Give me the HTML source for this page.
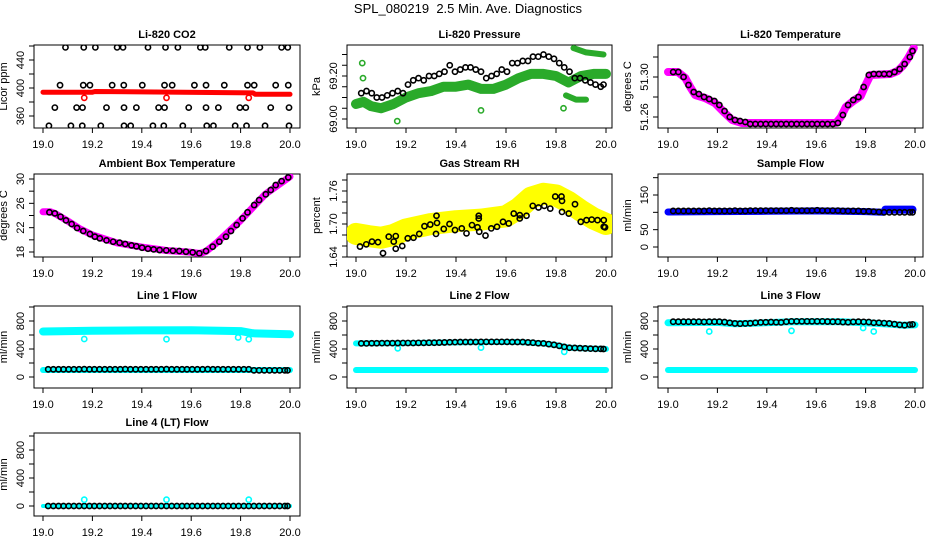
<!DOCTYPE html>
<html><head><meta charset="utf-8">
<style>
html,body{margin:0;padding:0;background:#fff;}
svg{display:block;font-family:"Liberation Sans",Arial,sans-serif;}
</style></head>
<body>
<svg id="chart" width="936" height="540" viewBox="0 0 936 540">
<text x="468" y="13" text-anchor="middle" font-size="13" style="white-space:pre">SPL_080219  2.5 Min. Ave. Diagnostics</text>
</svg>
<script>
// ---------- data ----------
const xTickLabels = ["19.0","19.2","19.4","19.6","19.8","20.0"];
const xTickValues = [19.0,19.2,19.4,19.6,19.8,20.0];
const T48 = [19.021,19.042,19.063,19.083,19.104,19.125,19.146,19.167,19.188,19.208,19.229,19.250,19.271,19.292,19.313,19.333,19.354,19.375,19.396,19.417,19.438,19.458,19.479,19.500,19.521,19.542,19.563,19.583,19.604,19.625,19.646,19.667,19.688,19.708,19.729,19.750,19.771,19.792,19.813,19.833,19.854,19.875,19.896,19.917,19.938,19.958,19.979,19.990];

// CO2
const co2BlackT = [19.091,19.165,19.212,19.300,19.324,19.425,19.496,19.546,19.637,19.657,19.754,19.828,19.878,19.966,19.991,
 19.069,19.163,19.190,19.280,19.327,19.402,19.492,19.523,19.613,19.660,19.734,19.828,19.855,19.942,19.993,
 19.048,19.136,19.160,19.257,19.328,19.378,19.468,19.492,19.590,19.660,19.710,19.797,19.821,19.922,19.996,
 19.024,19.113,19.159,19.234,19.328,19.355,19.445,19.489,19.566,19.663,19.690,19.778,19.824,19.899,19.996];
const co2BlackV = [458,458,458,458,458,458,458,458,458,458,458,458,458,458,458,
 404,404,404,404,404,404,404,404,404,404,404,404,404,404,404,
 372,372,372,372,372,372,372,372,372,372,372,372,372,372,372,
 346,346,346,346,346,346,346,346,346,346,346,346,346,346,346];
const co2RedT = [19.0,19.2,19.21,19.85,19.86,20.0];
const co2RedV = [394,394,395,393,391,391];
const co2RedOutT = [19.167,19.5,19.833];
const co2RedOutV = [386,386,386];

// Pressure
const presBlackV = [69.12,69.13,69.12,69.10,69.10,69.11,69.12,69.13,69.12,69.16,69.18,69.19,69.18,69.20,69.20,69.21,69.22,69.25,69.22,69.23,69.24,69.24,69.23,69.22,69.19,69.20,69.21,69.23,69.22,69.26,69.26,69.27,69.27,69.29,69.29,69.30,69.29,69.28,69.26,69.24,69.22,69.19,69.19,69.18,69.17,69.16,69.15,69.16];
const presGreenT = [19.0,19.03,19.06,19.1,19.15,19.2,19.25,19.3,19.35,19.4,19.45,19.5,19.55,19.6,19.65,19.7,19.75,19.8,19.85,19.9,19.95,20.0];
const presGreenV = [69.07,69.08,69.06,69.05,69.07,69.10,69.12,69.13,69.15,69.15,69.16,69.14,69.14,69.16,69.19,69.21,69.21,69.20,69.17,69.20,69.21,69.21];
const presGreenUpT = [19.87,19.92,19.99];
const presGreenUpV = [69.33,69.31,69.30];
const presGreenLoT = [19.84,19.88,19.92];
const presGreenLoV = [69.11,69.09,69.09];
const presGreenOutT = [19.025,19.028,19.165,19.5,19.83];
const presGreenOutV = [69.26,69.19,68.99,69.04,69.05];

// Li-820 temperature
const tempBlackV = [51.305,51.305,51.300,51.292,51.285,51.283,51.280,51.278,51.276,51.272,51.266,51.260,51.257,51.256,51.255,
 51.253,51.253,51.253,51.253,51.253,51.253,51.253,51.253,51.253,51.253,51.253,51.253,51.253,51.253,51.253,51.253,51.253,
 51.254,51.262,51.272,51.277,51.280,51.290,51.302,51.303,51.303,51.303,51.303,51.305,51.308,51.313,51.320,51.326];
const tempMagT = [19.0,19.04,19.07,19.09,19.11,19.15,19.19,19.23,19.26,19.3,19.68,19.7,19.72,19.75,19.78,19.8,19.82,19.9,19.93,19.95,19.97,19.995];
const tempMagV = [51.305,51.305,51.299,51.290,51.282,51.279,51.274,51.264,51.257,51.254,51.254,51.260,51.270,51.276,51.281,51.292,51.302,51.303,51.306,51.311,51.318,51.329];

// Ambient box temperature
const ambT = [19.026,19.048,19.071,19.093,19.116,19.138,19.163,19.190,19.210,19.230,19.257,19.284,19.310,19.333,19.358,19.378,19.401,19.425,19.448,19.472,19.499,19.526,19.552,19.579,19.606,19.633,19.660,19.687,19.714,19.741,19.761,19.784,19.808,19.828,19.855,19.875,19.902,19.922,19.942,19.966,19.993];
const ambV = [24.52,24.35,23.80,23.20,22.60,21.94,21.45,20.95,20.52,20.24,19.91,19.69,19.53,19.31,19.09,18.93,18.71,18.54,18.43,18.32,18.27,18.21,18.16,18.05,17.94,17.78,18.16,18.87,19.69,20.52,21.45,22.44,23.53,24.52,25.72,26.55,27.48,28.19,29.00,29.65,30.26];
const ambMagT = [19.0,19.03,19.05,19.1,19.15,19.2,19.3,19.4,19.5,19.6,19.635,19.66,19.7,19.8,19.9,20.0];
const ambMagV = [24.6,24.6,24.3,23.1,21.8,20.8,19.5,18.8,18.25,17.95,17.75,18.1,19.4,23.2,27.5,30.4];

// Gas stream RH
const rhBlackT = [19.016,19.041,19.064,19.088,19.108,19.131,19.151,19.159,19.159,19.185,19.207,19.230,19.253,19.274,19.297,19.320,19.324,19.322,19.351,19.374,19.396,19.423,19.442,19.464,19.486,19.491,19.491,19.493,19.518,19.541,19.564,19.588,19.611,19.631,19.655,19.655,19.682,19.707,19.730,19.753,19.777,19.797,19.822,19.824,19.824,19.851,19.876,19.899,19.922,19.943,19.966,19.991,19.991,19.996];
const rhBlackV = [1.659,1.663,1.668,1.667,1.647,1.677,1.668,1.678,1.655,1.660,1.674,1.675,1.682,1.696,1.699,1.682,1.702,1.715,1.691,1.700,1.689,1.692,1.683,1.698,1.694,1.715,1.710,1.686,1.679,1.692,1.695,1.704,1.701,1.719,1.716,1.710,1.715,1.733,1.730,1.733,1.728,1.750,1.750,1.742,1.722,1.719,1.736,1.704,1.707,1.708,1.707,1.707,1.695,1.694];
const rhYellowT = [19.0,19.05,19.1,19.15,19.2,19.3,19.4,19.5,19.6,19.65,19.7,19.75,19.8,19.85,19.9,19.95,20.0];
const rhYellowV = [1.682,1.678,1.675,1.680,1.690,1.700,1.705,1.708,1.714,1.728,1.748,1.755,1.752,1.740,1.724,1.710,1.700];

// Sample flow
const sampBlackV = [104,104,104,104,104,104,104,105,104,104,104,104,105,104,104,105,105,105,105,105,105,105,105,106,105,105,105,105,106,105,105,105,105,104,104,104,104,103,103,102,101,100,100,100,100,100,100,100];
const sampBlueT = [19.0,19.2,19.4,19.6,19.8,19.87];
const sampBlueV = [101,102,103,104,102,100];
const sampBlue2T = [19.88,19.99];
const sampBlue2V = [108,108];

// Line flows
const line1BlackV = [110,110,110,110,110,110,110,112,110,110,110,110,110,110,110,112,110,110,110,110,110,110,110,112,110,110,110,110,110,110,110,112,110,110,110,110,110,110,110,110,95,95,95,95,95,95,95,95];
const line1CyanUpT = [19.0,19.2,19.4,19.6,19.8,19.85,20.0];
const line1CyanUpV = [650,660,665,668,655,625,612];
const cyanLowT = [19.0,20.0];
const cyanLowV = [100,100];
const line1CyanOutT = [19.167,19.5,19.79,19.833];
const line1CyanOutV = [543,540,565,540];

const line2BlackV = [480,480,482,482,484,484,484,485,486,486,486,488,488,490,490,492,494,496,498,500,500,500,500,502,502,502,502,502,502,500,500,500,494,490,482,480,470,460,445,430,418,415,412,408,405,403,402,400];
const line2CyanT = [19.0,19.2,19.4,19.5,19.65,19.7,19.75,19.8,19.85,19.9,20.0];
const line2CyanV = [480,485,495,500,500,490,478,455,420,410,400];
const line2CyanOutT = [19.167,19.5,19.833];
const line2CyanOutV = [410,420,360];

const line3BlackV = [790,790,790,790,790,790,788,790,790,790,785,775,765,762,765,768,775,780,782,785,782,780,790,795,795,795,795,795,795,795,792,790,790,785,782,788,790,788,785,775,775,770,765,755,745,740,748,752];
const line3CyanT = [19.0,19.2,19.27,19.33,19.5,19.7,19.8,19.9,19.95,20.0];
const line3CyanV = [775,780,760,765,790,790,775,755,740,745];
const line3CyanOutT = [19.167,19.5,19.79,19.833];
const line3CyanOutV = [650,660,700,650];

const line4BlackV = [0,0,0,0,0,0,0,0,0,0,0,0,0,0,0,0,0,0,0,0,0,0,0,0,0,0,0,0,0,0,0,0,0,0,0,0,0,0,0,0,0,0,0,0,0,0,0,0];
const line4CyanT = [19.0,20.0];
const line4CyanV = [0,0];
const line4CyanOutT = [19.167,19.5,19.833];
const line4CyanOutV = [90,90,90];

const flowTicks = [0,200,400,600,800,1000];
const flowLabels = ["0","400","800"];

// ---------- layout ----------
const svg = document.getElementById('chart');
const NS = 'http://www.w3.org/2000/svg';
function mk(tag, attrs, parent){
  const e = document.createElementNS(NS, tag);
  for (const k in attrs) e.setAttribute(k, attrs[k]);
  (parent||svg).appendChild(e);
  return e;
}
const cols = [{bx0:34,bx1:300,x0:43,x1:290},{bx0:347,bx1:612,x0:356,x1:606},{bx0:658,bx1:923,x0:668,x1:915}];
const rows = [{by0:45,by1:128},{by0:174,by1:257},{by0:306,by1:388},{by0:433,by1:516}];

function panel(p){
  const c = cols[p.col], r = rows[p.row];
  const g = mk('g', {});
  
  
  const xs = v => c.x0 + (v - 19) * (c.x1 - c.x0);
  const ys = v => p.ya[1] + (v - p.ya[0]) * (p.yb[1] - p.ya[1]) / (p.yb[0] - p.ya[0]);
  const t = mk('text', {x:(c.bx0+c.bx1)/2, y:r.by0-7, 'text-anchor':'middle','font-size':11,'font-weight':'bold'}, g);
  t.textContent = p.title;
  
  
  const box = mk('rect', {x:c.bx0, y:r.by0, width:c.bx1-c.bx0, height:r.by1-r.by0, fill:'none', stroke:'#000','stroke-width':1}, g);
  
  
  const xa = mk('g', {}, g);
  
  
  mk('line', {x1:xs(19), x2:xs(20), y1:r.by1, y2:r.by1, stroke:'#000'}, xa);
  xTickValues.forEach((v,i)=>{
    mk('line', {x1:xs(v), x2:xs(v), y1:r.by1, y2:r.by1+5, stroke:'#000'}, xa);
    const tl = mk('text', {x:xs(v), y:r.by1+20, 'text-anchor':'middle','font-size':11}, xa);
    tl.textContent = xTickLabels[i];
    
    
  });
  const ya = mk('g', {}, g);
  
  
  const tk = p.ticks;
  mk('line', {x1:c.bx0, x2:c.bx0, y1:ys(tk[0]), y2:ys(tk[tk.length-1]), stroke:'#000'}, ya);
  tk.forEach(v=>{
    mk('line', {x1:c.bx0-5, x2:c.bx0, y1:ys(v), y2:ys(v), stroke:'#000'}, ya);
  });
  p.labels.forEach(s=>{
    const v = parseFloat(s);
    const lx = c.bx0-10, ly = ys(v);
    const tl = mk('text', {x:lx, y:ly, 'text-anchor':'middle','font-size':11, transform:`rotate(-90 ${lx} ${ly})`}, ya);
    tl.textContent = s;
    
    
  });
  const yt = mk('text', {x:c.bx0-27, y:(r.by0+r.by1)/2, 'text-anchor':'middle','font-size':11, transform:`rotate(-90 ${c.bx0-27} ${(r.by0+r.by1)/2})`}, g);
  yt.textContent = p.ylab;
  
  
  const cid = 'clip-' + p.name;
  const cp = mk('clipPath', {id:cid}, g);
  mk('rect', {x:c.bx0, y:r.by0, width:c.bx1-c.bx0, height:r.by1-r.by0}, cp);
  const pg = mk('g', {'clip-path':`url(#${cid})`}, g);
  (p.bands||[]).forEach(b=>{
    const pts = b.t.map((tv,i)=> xs(tv).toFixed(1)+','+ys(b.v[i]).toFixed(1)).join(' ');
    const pl = mk('polyline', {points:pts, fill:'none', stroke:b.color, 'stroke-width':b.w, 'stroke-linejoin':'round','stroke-linecap':'round'}, pg);
    
    
  });
  (p.points||[]).forEach(s=>{
    const sg = mk('g', {}, pg);
    
    
    s.t.forEach((tv,i)=>{
      const ci = mk('circle', {cx:xs(tv), cy:ys(s.v[i]), r:2.6, fill:'none', stroke:s.color, 'stroke-width':1.6}, sg);
      
      
    });
  });
}

panel({name:'co2-panel', col:0,row:0,title:'Li-820 CO2', ylab:'Licor ppm', ya:[400,88], yb:[440,60],
  ticks:[360,380,400,420,440,460], labels:['360','400','440'],
  bands:[{name:'co2-red-band', t:co2RedT, v:co2RedV, color:'#ff0000', w:5}],
  points:[{name:'co2-red-outliers', t:co2RedOutT, v:co2RedOutV, color:'#ff0000'},
          {name:'co2-black-points', t:co2BlackT, v:co2BlackV, color:'#000'}]});

panel({name:'pressure-panel', col:1,row:0,title:'Li-820 Pressure', ylab:'kPa', ya:[69.0,119], yb:[69.2,76],
  ticks:[69.0,69.05,69.1,69.15,69.2,69.25,69.3], labels:['69.00','69.20'],
  bands:[{name:'pressure-green-band', t:presGreenT, v:presGreenV, color:'#2aaa2a', w:10},
         {name:'pressure-green-upper', t:presGreenUpT, v:presGreenUpV, color:'#2aaa2a', w:6},
         {name:'pressure-green-lower', t:presGreenLoT, v:presGreenLoV, color:'#2aaa2a', w:6}],
  points:[{name:'pressure-green-outliers', t:presGreenOutT, v:presGreenOutV, color:'#2aaa2a'},
          {name:'pressure-black-points', t:T48, v:presBlackV, color:'#000'}]});

panel({name:'li820-temp-panel', col:2,row:0,title:'Li-820 Temperature', ylab:'degrees C', ya:[51.26,117], yb:[51.30,77],
  ticks:[51.26,51.28,51.30,51.32], labels:['51.26','51.30'],
  bands:[{name:'temp-magenta-band', t:tempMagT, v:tempMagV, color:'#ff00ff', w:8}],
  points:[{name:'temp-black-points', t:T48, v:tempBlackV, color:'#000'}]});

panel({name:'ambient-temp-panel', col:0,row:1,title:'Ambient Box Temperature', ylab:'degrees C', ya:[18,252], yb:[30,179],
  ticks:[18,20,22,24,26,28,30], labels:['18','22','26','30'],
  bands:[{name:'ambient-magenta-band', t:ambMagT, v:ambMagV, color:'#ff00ff', w:7}],
  points:[{name:'ambient-black-points', t:ambT, v:ambV, color:'#000'}]});

panel({name:'rh-panel', col:1,row:1,title:'Gas Stream RH', ylab:'percent', ya:[1.70,224], yb:[1.76,191],
  ticks:[1.64,1.66,1.68,1.70,1.72,1.74,1.76,1.78], labels:['1.64','1.70','1.76'],
  bands:[{name:'rh-yellow-band', t:rhYellowT, v:rhYellowV, color:'#ffff00', w:22}],
  points:[{name:'rh-black-points', t:rhBlackT, v:rhBlackV, color:'#000'}]});

panel({name:'sample-flow-panel', col:2,row:1,title:'Sample Flow', ylab:'ml/min', ya:[0,247], yb:[150,195],
  ticks:[0,50,100,150,200], labels:['0','50','150'],
  bands:[{name:'sample-blue-band', t:sampBlueT, v:sampBlueV, color:'#0000ff', w:7},
         {name:'sample-blue-band-2', t:sampBlue2T, v:sampBlue2V, color:'#0000ff', w:8}],
  points:[{name:'sample-black-points', t:T48, v:sampBlackV, color:'#000'}]});

panel({name:'line1-flow-panel', col:0,row:2,title:'Line 1 Flow', ylab:'ml/min', ya:[0,377], yb:[800,321],
  ticks:flowTicks, labels:flowLabels,
  bands:[{name:'line1-cyan-upper', t:line1CyanUpT, v:line1CyanUpV, color:'#00ffff', w:8},
         {name:'line1-cyan-lower', t:cyanLowT, v:cyanLowV, color:'#00ffff', w:6}],
  points:[{name:'line1-cyan-outliers', t:line1CyanOutT, v:line1CyanOutV, color:'#00ffff'},
          {name:'line1-black-points', t:T48, v:line1BlackV, color:'#000'}]});

panel({name:'line2-flow-panel', col:1,row:2,title:'Line 2 Flow', ylab:'ml/min', ya:[0,377], yb:[800,321],
  ticks:flowTicks, labels:flowLabels,
  bands:[{name:'line2-cyan-upper', t:line2CyanT, v:line2CyanV, color:'#00ffff', w:6},
         {name:'line2-cyan-lower', t:cyanLowT, v:cyanLowV, color:'#00ffff', w:6}],
  points:[{name:'line2-cyan-outliers', t:line2CyanOutT, v:line2CyanOutV, color:'#00ffff'},
          {name:'line2-black-points', t:T48, v:line2BlackV, color:'#000'}]});

panel({name:'line3-flow-panel', col:2,row:2,title:'Line 3 Flow', ylab:'ml/min', ya:[0,377], yb:[800,321],
  ticks:flowTicks, labels:flowLabels,
  bands:[{name:'line3-cyan-upper', t:line3CyanT, v:line3CyanV, color:'#00ffff', w:7},
         {name:'line3-cyan-lower', t:cyanLowT, v:cyanLowV, color:'#00ffff', w:6}],
  points:[{name:'line3-cyan-outliers', t:line3CyanOutT, v:line3CyanOutV, color:'#00ffff'},
          {name:'line3-black-points', t:T48, v:line3BlackV, color:'#000'}]});

panel({name:'line4-flow-panel', col:0,row:3,title:'Line 4 (LT) Flow', ylab:'ml/min', ya:[0,506], yb:[800,450],
  ticks:flowTicks, labels:flowLabels,
  bands:[{name:'line4-cyan-band', t:line4CyanT, v:line4CyanV, color:'#00ffff', w:4}],
  points:[{name:'line4-black-points', t:T48, v:line4BlackV, color:'#000'},
          {name:'line4-cyan-outliers', t:line4CyanOutT, v:line4CyanOutV, color:'#00ffff'}]});
</script>
</body></html>
